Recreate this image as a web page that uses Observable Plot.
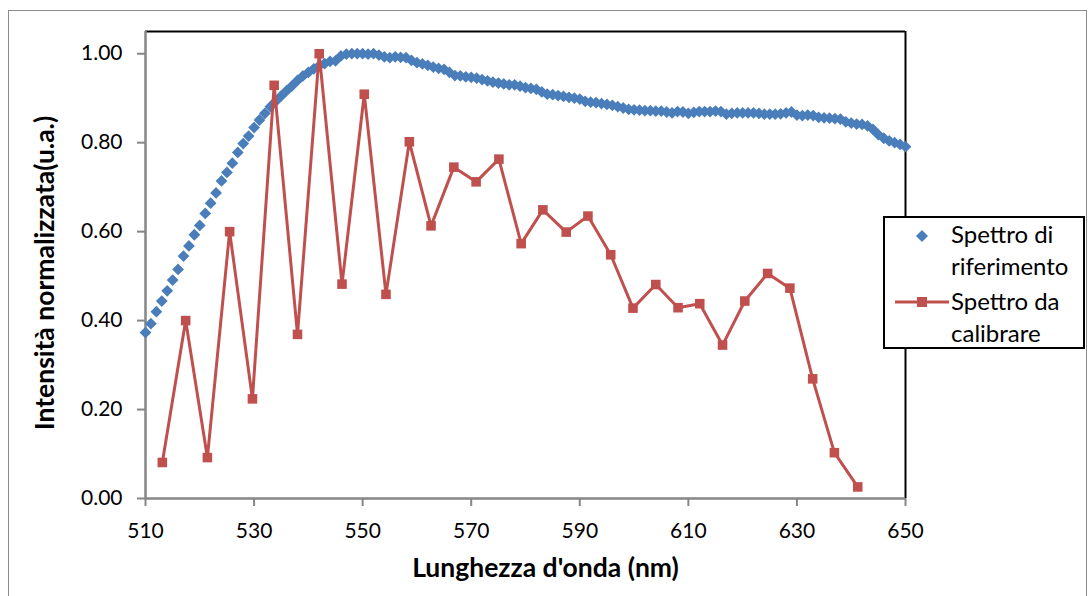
<!DOCTYPE html>
<html><head><meta charset="utf-8">
<script src="https://cdn.jsdelivr.net/npm/d3@7"></script>
<script src="https://cdn.jsdelivr.net/npm/@observablehq/plot@0.6"></script>
<style>
body{margin:0;background:#fff;}
#wrap{position:relative;width:1090px;height:596px;overflow:hidden;font-family:Lato,"Open Sans",sans-serif;}
#border{position:absolute;left:8px;top:10px;width:1079px;height:600px;border:1px solid #8c8c8c;box-sizing:border-box;}
#chart{position:absolute;left:0;top:0;}
#legend{position:absolute;left:883px;top:216px;width:202px;height:133px;border:2px solid #000;background:#fff;box-sizing:border-box;font-size:24px;color:#000;}
#legend span{position:absolute;left:66px;line-height:24px;white-space:nowrap;}
#legend svg{position:absolute;left:0;top:0;}
</style></head>
<body><div id="wrap"><div id="border"></div><div id="chart"></div><div id="legend"></div></div>
<script>
// Series 1: Spettro di riferimento
const refWavelength = [510,511,512,513,514,515,516,517,518,519,520,521,522,523,524,525,526,527,528,529,
530,531,532,533,534,535,536,537,538,539,540,541,542,543,544,545,546,547,548,549,
550,551,552,553,554,555,556,557,558,559,560,561,562,563,564,565,566,567,568,569,
570,571,572,573,574,575,576,577,578,579,580,581,582,583,584,585,586,587,588,589,
590,591,592,593,594,595,596,597,598,599,600,601,602,603,604,605,606,607,608,609,
610,611,612,613,614,615,616,617,618,619,620,621,622,623,624,625,626,627,628,629,
630,631,632,633,634,635,636,637,638,639,640,641,642,643,644,645,646,647,648,649,650];
const refIntensity = [0.373,0.393,0.420,0.444,0.467,0.491,0.515,0.545,0.568,0.593,0.614,0.641,0.664,0.687,0.714,0.733,0.754,0.778,0.798,0.815,
0.834,0.851,0.866,0.881,0.893,0.905,0.917,0.928,0.940,0.950,0.958,0.966,0.973,0.978,0.983,0.984,0.995,0.999,1.000,1.000,
1.000,0.999,1.000,0.997,0.993,0.991,0.993,0.992,0.991,0.985,0.980,0.977,0.974,0.970,0.967,0.965,0.958,0.951,0.950,0.948,
0.947,0.945,0.942,0.939,0.936,0.934,0.932,0.930,0.930,0.927,0.924,0.922,0.920,0.914,0.909,0.908,0.906,0.904,0.902,0.900,
0.898,0.893,0.891,0.890,0.888,0.886,0.884,0.881,0.878,0.875,0.874,0.873,0.872,0.872,0.871,0.871,0.869,0.867,0.870,0.869,
0.866,0.868,0.870,0.870,0.870,0.871,0.870,0.864,0.866,0.867,0.867,0.867,0.867,0.866,0.864,0.864,0.864,0.865,0.867,0.869,
0.862,0.861,0.862,0.861,0.857,0.856,0.855,0.854,0.853,0.847,0.844,0.842,0.841,0.838,0.830,0.818,0.810,0.804,0.800,0.796,0.791];

// Series 2: Spettro da calibrare
const calWavelength = [513.1,517.4,521.4,525.5,529.7,533.7,538.0,542.0,546.2,550.3,554.3,558.6,562.6,566.8,570.9,575.1,
579.2,583.2,587.5,591.5,595.7,599.8,604.0,608.1,612.1,616.3,620.4,624.6,628.7,632.9,636.9,641.2];
const calIntensity = [0.081,0.400,0.092,0.600,0.224,0.929,0.369,1.000,0.482,0.909,0.459,0.802,0.613,0.745,0.712,0.763,
0.573,0.649,0.599,0.635,0.548,0.428,0.481,0.429,0.438,0.345,0.444,0.506,0.473,0.269,0.103,0.026];

const xTicks = [510,530,550,570,590,610,630,650];
const yTicks = [0,0.2,0.4,0.6,0.8,1.0];
const seriesNames = ["Spettro di riferimento","Spettro da calibrare"];
const xTitle = "Lunghezza d'onda (nm)";
const yTitle = "Intensità normalizzata(u.a.)";

const blue = "#4A7EBB", red = "#C0504D", axisGray = "#868686";
const refData = refWavelength.map((x,i)=>({x, y: refIntensity[i]}));
const calData = calWavelength.map((x,i)=>({x, y: calIntensity[i]}));

const chart = Plot.plot({
  width: 1090, height: 596,
  marginLeft: 145, marginRight: 185, marginTop: 31, marginBottom: 98,
  style: {fontFamily: "Lato, 'Open Sans', sans-serif", fontSize: "21px", color: "#000", background: "transparent", overflow: "visible"},
  x: {domain: [510, 650]},
  y: {domain: [0, 1.05]},
  marks: [
    Plot.ruleY([1.05], {stroke: "#000", strokeWidth: 2}),
    Plot.ruleX([650], {stroke: "#000", strokeWidth: 2}),
    Plot.axisX({ticks: xTicks, tickFormat: d => String(d), tickSize: 8, tickPadding: 17, stroke: axisGray, strokeWidth: 2, fill: "#000", fontSize: 21, label: null}),
    Plot.axisY({ticks: yTicks, tickFormat: d3.format(".2f"), tickSize: 8, tickPadding: 15, stroke: axisGray, strokeWidth: 2, fill: "#000", fontSize: 21, label: null}),
    Plot.ruleX([510], {stroke: axisGray, strokeWidth: 2.5}),
    Plot.ruleY([0], {stroke: axisGray, strokeWidth: 2.5}),
    Plot.dot(refData, {x: "x", y: "y", symbol: "diamond2", r: 5.3, fill: blue, stroke: "none"}),
    Plot.line(calData, {x: "x", y: "y", stroke: red, strokeWidth: 3}),
    Plot.dot(calData, {x: "x", y: "y", symbol: "square", r: 5.4, fill: red, stroke: "none"}),
    Plot.text([xTitle], {text: d => d, frameAnchor: "bottom", textAnchor: "middle", dy: 78, dx: 20, fontWeight: "bold", fontSize: 26.5, fill: "#000"}),
    Plot.text([yTitle], {text: d => d, frameAnchor: "left", textAnchor: "middle", rotate: -90, dx: -100, dy: 8, fontWeight: "bold", fontSize: 26.5, fill: "#000"})
  ]
});
document.getElementById("chart").appendChild(chart);

// Legend
const leg = document.getElementById("legend");
leg.innerHTML = `
<svg width="200" height="130">
  <path d="M37,12 L43,18 L37,24 L31,18 Z" fill="${blue}"/>
  <line x1="10" x2="64" y1="84" y2="84" stroke="${red}" stroke-width="3"/>
  <rect x="32" y="79" width="10" height="10" fill="${red}"/>
</svg>
<span style="top:4px">Spettro di</span>
<span style="top:36px">riferimento</span>
<span style="top:71px">Spettro da</span>
<span style="top:103px">calibrare</span>`;
</script>
</body></html>
